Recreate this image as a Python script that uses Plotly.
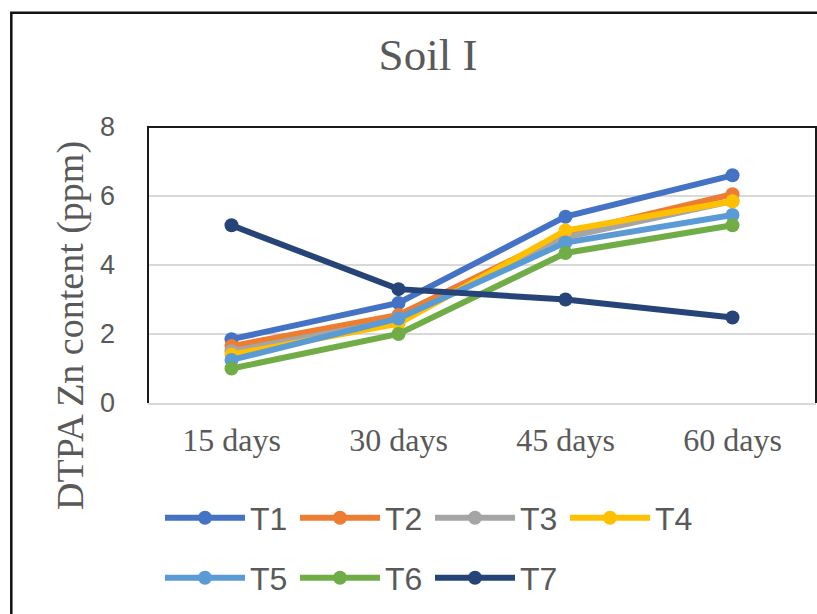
import plotly.graph_objects as go

categories = ["15 days", "30 days", "45 days", "60 days"]
series_names = ["T1", "T2", "T3", "T4", "T5", "T6", "T7"]
T1 = [1.85, 2.9, 5.4, 6.6]
T2 = [1.65, 2.55, 4.9, 6.05]
T3 = [1.5, 2.4, 4.8, 5.85]
T4 = [1.4, 2.3, 5.0, 5.85]
T5 = [1.25, 2.45, 4.65, 5.45]
T6 = [1.0, 2.0, 4.35, 5.15]
T7 = [5.15, 3.3, 3.0, 2.48]
y_ticks = [0, 2, 4, 6, 8]

values = [T1, T2, T3, T4, T5, T6, T7]
colors = ["#4472C4", "#ED7D31", "#A5A5A5", "#FFC000", "#5B9BD5", "#70AD47", "#264478"]

fig = go.Figure()
for i, (name, vals, col) in enumerate(zip(series_names, values, colors)):
    fig.add_trace(go.Scatter(
        x=categories, y=vals, name=name, mode="lines+markers",
        line=dict(color=col, width=6),
        marker=dict(color=col, size=14, symbol="circle"),
        legend="legend" if i < 4 else "legend2",
    ))

W, H = 817, 614
L, T, R, B = 148, 127, 1, 211
pw = W - L - R
ph = H - T - B

def px2x(px):
    return (px - L) / pw

def py2y(py):
    return (H - B - py) / ph

legend_common = dict(
    orientation="h", xref="container", yref="container",
    xanchor="left", yanchor="middle",
    font=dict(family="Liberation Sans", size=32, color="#595959"),
    itemwidth=80, entrywidth=40, entrywidthmode="pixels",
    bgcolor="rgba(0,0,0,0)", borderwidth=0,
)

fig.update_layout(
    width=W, height=H,
    margin=dict(l=L, r=R, t=T, b=B, pad=0),
    paper_bgcolor="white", plot_bgcolor="white",
    title=dict(text="Soil I", xref="paper", x=px2x(428), xanchor="center",
               yref="container", y=1 - 54 / H, yanchor="middle",
               font=dict(family="Liberation Serif", size=45, color="#595959")),
    xaxis=dict(
        type="category", range=[-0.5, 3.5],
        showgrid=False, showline=True, linecolor="#D9D9D9", linewidth=1.5,
        ticks="", tickfont=dict(family="Liberation Serif", size=32, color="#595959"),
        ticklabelstandoff=8,
    ),
    yaxis=dict(
        range=[0, 8], tickvals=y_ticks, showgrid=True, gridcolor="#D9D9D9", gridwidth=1.5,
        zeroline=False, showline=False, ticks="",
        tickfont=dict(family="Liberation Sans", size=27, color="#595959"),
        ticklabelstandoff=32,
    ),
    legend=dict(x=160 / W, y=1 - 518 / H, **legend_common),
    legend2=dict(x=160 / W, y=1 - 578 / H, **legend_common),
    showlegend=True,
)

fig.add_annotation(
    text="DTPA Zn content (ppm)", xref="paper", yref="paper",
    x=px2x(70), y=py2y(326), textangle=-90, showarrow=False,
    xanchor="center", yanchor="middle",
    font=dict(family="Liberation Serif", size=38, color="#595959"),
)

# plot-area border (top, left, right)
fig.add_shape(type="path", xref="paper", yref="paper",
              path="M 0,0 L 0,1 L 1,1 L 1,0",
              line=dict(color="#1a1a1a", width=2), layer="above")

# outer chart frame
fig.add_shape(type="rect", xref="paper", yref="paper",
              x0=px2x(11.3), x1=px2x(900), y0=py2y(700), y1=py2y(12.8),
              line=dict(color="#111111", width=2.5), layer="above")

fig.write_html(
    "out.html",
    config={"displayModeBar": False},
    post_script="document.body.style.margin='0';document.body.style.overflow='hidden';",
)
